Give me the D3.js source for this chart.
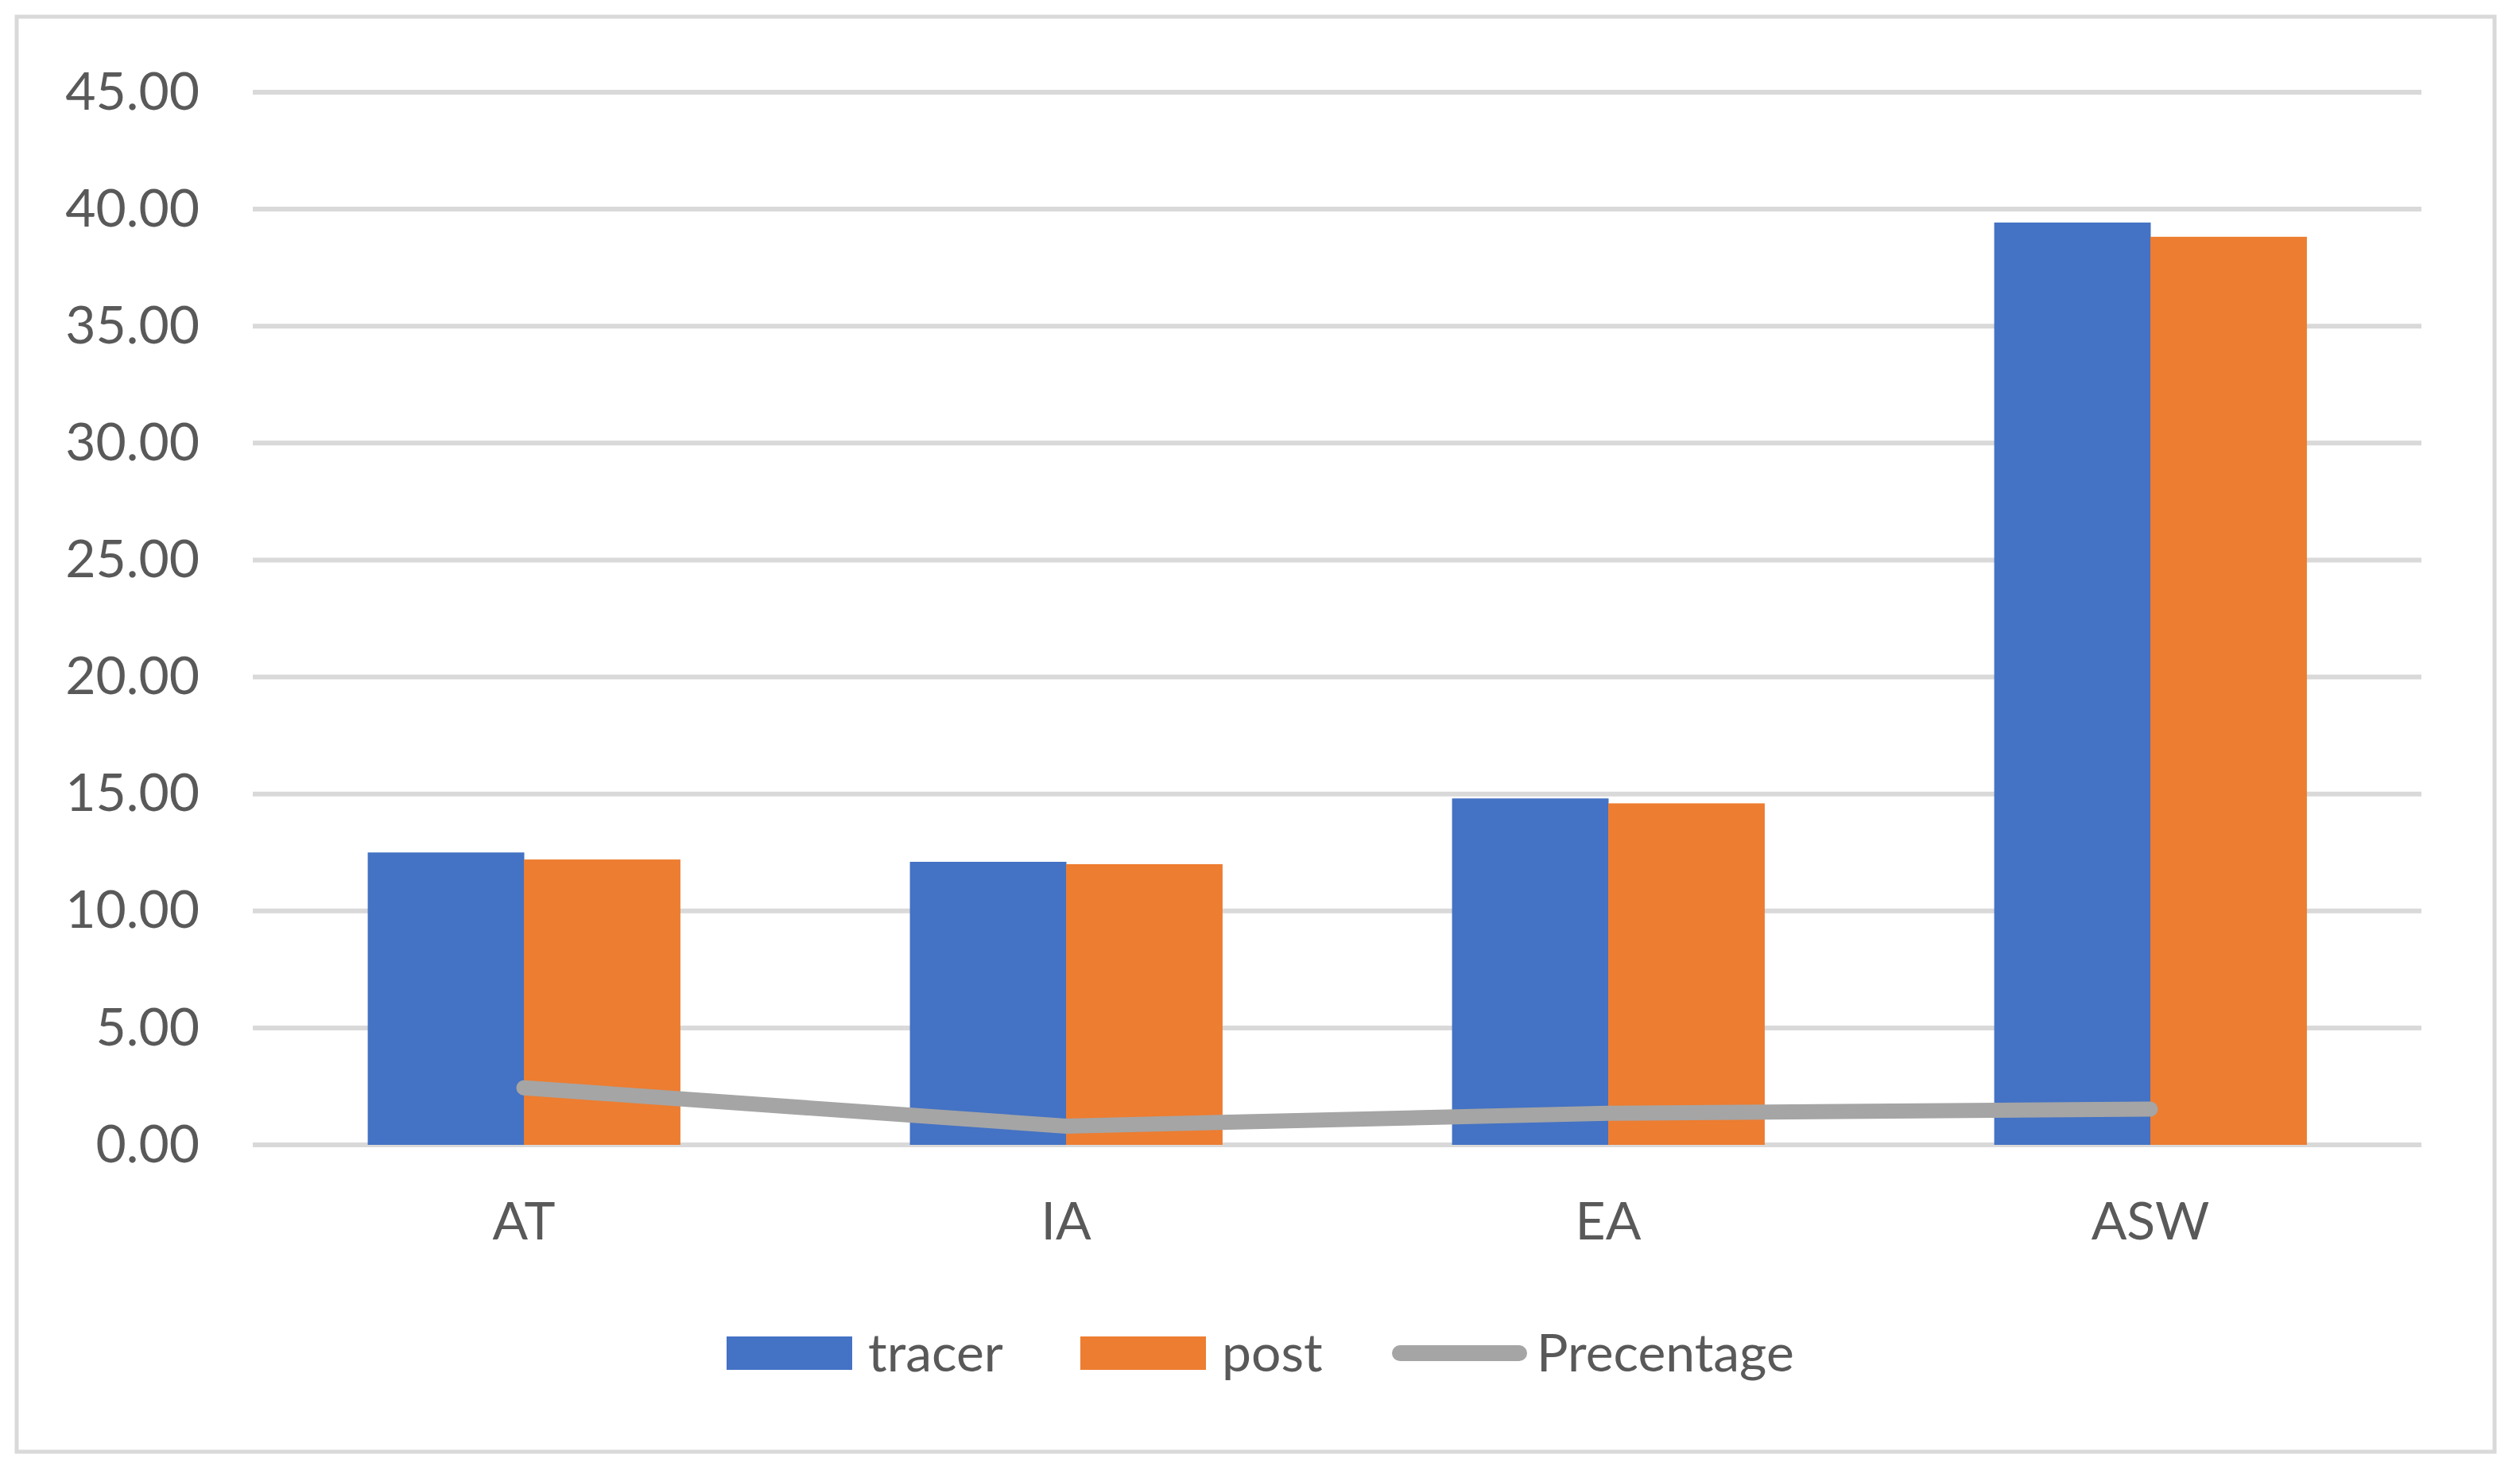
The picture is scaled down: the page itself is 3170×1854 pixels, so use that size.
<!DOCTYPE html>
<meta charset="utf-8">
<script src="https://d3js.org/d3.v7.min.js"></script>
<style>
  body { margin: 0; background: #fff; }
  text { font-family: Lato, "Open Sans", sans-serif; fill: #595959; }
</style>
<div id="vis"></div>
<script>

// data
var categories = ["AT", "IA", "EA", "ASW"];
var tracer = [12.50, 12.10, 14.81, 39.43];
var post = [12.20, 12.00, 14.60, 38.82];
var percentage = [2.44, 0.80, 1.35, 1.53];
var yTicks = [0, 5, 10, 15, 20, 25, 30, 35, 40, 45];
var seriesNames = ["tracer", "post"];
var colors = {tracer: "#4472c4", post: "#ed7d31", Precentage: "#a5a5a5"};

var W = 3170, H = 1854;
var margin = {top: 116, right: 124, bottom: 414, left: 318},
    width = W - margin.left - margin.right,
    height = H - margin.top - margin.bottom;

var root = d3.select("#vis")
  .append("svg")
    .attr("width", W)
    .attr("height", H);

// chart border
root.append("rect")
  .attr("x", 21).attr("y", 21)
  .attr("width", 3117).attr("height", 1805)
  .attr("fill", "#fff")
  .attr("stroke", "#d9d9d9")
  .attr("stroke-width", 5);

var svg = root.append("g")
  .attr("transform", "translate(" + margin.left + "," + margin.top + ")");

var x = d3.scaleBand()
  .domain(categories)
  .range([0, width])
  .paddingInner(0.424)
  .paddingOuter(0.212);

var xSub = d3.scaleBand()
  .domain(seriesNames)
  .range([0, x.bandwidth()]);

var y = d3.scaleLinear()
  .domain([0, 45])
  .range([height, 0]);

// gridlines
svg.append("g")
  .selectAll("line")
  .data(yTicks)
  .enter()
  .append("line")
    .attr("x1", 0)
    .attr("x2", width)
    .attr("y1", function(d) { return y(d); })
    .attr("y2", function(d) { return y(d); })
    .attr("stroke", "#d9d9d9")
    .attr("stroke-width", 6);

// y axis labels
var yAxis = svg.append("g")
  .attr("transform", "translate(-64,0)")
  .call(d3.axisLeft(y).tickValues(yTicks).tickFormat(d3.format(".2f")).tickSize(0));
yAxis.select(".domain").remove();
yAxis.selectAll("text")
  .attr("font-size", 66)
  .attr("fill", "#595959")
  .attr("font-family", "Lato, 'Open Sans', sans-serif");

// bars
var rows = categories.map(function(c, i) {
  return {cat: c, values: [{key: "tracer", v: tracer[i]}, {key: "post", v: post[i]}]};
});

svg.append("g")
  .selectAll("g")
  .data(rows)
  .enter()
  .append("g")
    .attr("transform", function(d) { return "translate(" + x(d.cat) + ",0)"; })
  .selectAll("rect")
  .data(function(d) { return d.values; })
  .enter()
  .append("rect")
    .attr("x", function(d) { return xSub(d.key); })
    .attr("width", xSub.bandwidth() + 0.5)
    .attr("y", function(d) { return y(d.v); })
    .attr("height", function(d) { return y(0) - y(d.v); })
    .attr("fill", function(d) { return colors[d.key]; });

// percentage line
var line = d3.line()
  .x(function(d, i) { return x(categories[i]) + x.bandwidth() / 2; })
  .y(function(d) { return y(d); });

svg.append("path")
  .datum(percentage)
  .attr("d", line)
  .attr("fill", "none")
  .attr("stroke", colors.Precentage)
  .attr("stroke-width", 19)
  .attr("stroke-linecap", "round")
  .attr("stroke-linejoin", "round");

// x axis labels
var xAxis = svg.append("g")
  .attr("transform", "translate(0," + height + ")")
  .call(d3.axisBottom(x).tickSize(0).tickPadding(72));
xAxis.select(".domain").remove();
xAxis.selectAll("text")
  .attr("font-size", 66)
  .attr("fill", "#595959")
  .attr("font-family", "Lato, 'Open Sans', sans-serif");

// legend
var legend = root.append("g").attr("transform", "translate(0,1702)");
var legendItems = [
  {name: "tracer", x: 914, type: "rect"},
  {name: "post", x: 1359, type: "rect"},
  {name: "Precentage", x: 1761, type: "line"}
];
legendItems.forEach(function(d) {
  if (d.type === "rect") {
    legend.append("rect")
      .attr("x", d.x).attr("y", -21)
      .attr("width", 158).attr("height", 42)
      .attr("fill", colors[d.name]);
    legend.append("text")
      .attr("x", d.x + 178).attr("y", 0)
      .attr("dy", "0.35em")
      .attr("font-size", 66)
      .text(d.name);
  } else {
    legend.append("line")
      .attr("x1", d.x).attr("x2", d.x + 150)
      .attr("y1", 0).attr("y2", 0)
      .attr("stroke", colors[d.name])
      .attr("stroke-width", 20)
      .attr("stroke-linecap", "round");
    legend.append("text")
      .attr("x", d.x + 172).attr("y", 0)
      .attr("dy", "0.35em")
      .attr("font-size", 66)
      .text(d.name);
  }
});

</script>
